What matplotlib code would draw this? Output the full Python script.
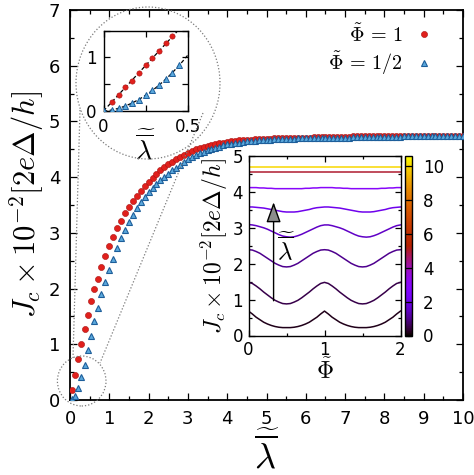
import numpy as np
import matplotlib
matplotlib.use('Agg')
import matplotlib.pyplot as plt
from matplotlib.patches import Ellipse, FancyArrowPatch
from matplotlib.lines import Line2D
from matplotlib.ticker import MultipleLocator
import matplotlib.cm as cm
import matplotlib.colors as mcolors

plt.rcParams['mathtext.fontset'] = 'cm'
plt.rcParams['font.family'] = 'DejaVu Sans'

# ---- main panel data: Jc vs lambda ----
lam = np.concatenate([[0.04, 0.12, 0.21, 0.29, 0.37, 0.46, 0.54, 0.62],
                      np.round(np.arange(0.7, 10.05, 0.1), 1)])
jc_phi1 = [0.18, 0.45, 0.74, 1.01, 1.27, 1.53, 1.78, 1.99,
           2.17, 2.39, 2.59,
           2.77, 2.93, 3.08, 3.21, 3.35, 3.46, 3.57, 3.67, 3.76, 3.84,
           3.92, 3.99, 4.06, 4.12, 4.18, 4.23, 4.28, 4.32, 4.36, 4.40,
           4.44, 4.47, 4.50, 4.52, 4.54, 4.56, 4.58, 4.60, 4.61, 4.62,
           4.63, 4.64, 4.65, 4.66, 4.66, 4.67, 4.67, 4.68, 4.68, 4.69,
           4.69, 4.69, 4.70, 4.70, 4.70, 4.70, 4.71, 4.71, 4.71, 4.71,
           4.71, 4.71, 4.72, 4.72, 4.72, 4.72, 4.72, 4.72, 4.72, 4.72,
           4.72, 4.72, 4.73, 4.73, 4.73, 4.73, 4.73, 4.73, 4.73, 4.73,
           4.73, 4.73, 4.73, 4.73, 4.73, 4.73, 4.73, 4.73, 4.74, 4.74,
           4.74, 4.74, 4.74, 4.74, 4.74, 4.74, 4.74, 4.74, 4.74, 4.74,
           4.74]
jc_phi_half = [0.01, 0.07, 0.22, 0.41, 0.63, 0.89, 1.15, 1.42,
               1.66, 1.90, 2.12,
               2.33, 2.53, 2.72, 2.90, 3.05, 3.19, 3.32, 3.44, 3.55, 3.65,
               3.73, 3.81, 3.88, 3.94, 4.00, 4.06, 4.12, 4.17, 4.22, 4.27,
               4.32, 4.36, 4.40, 4.43, 4.46, 4.49, 4.51, 4.53, 4.55, 4.57,
               4.59, 4.60, 4.61, 4.62, 4.63, 4.64, 4.65, 4.65, 4.66, 4.66,
               4.67, 4.67, 4.68, 4.68, 4.68, 4.69, 4.69, 4.69, 4.70, 4.70,
               4.70, 4.70, 4.70, 4.71, 4.71, 4.71, 4.71, 4.71, 4.71, 4.71,
               4.71, 4.71, 4.72, 4.72, 4.72, 4.72, 4.72, 4.72, 4.72, 4.72,
               4.72, 4.72, 4.72, 4.72, 4.72, 4.73, 4.73, 4.73, 4.73, 4.73,
               4.73, 4.73, 4.73, 4.73, 4.73, 4.73, 4.73, 4.73, 4.73, 4.73,
               4.73]

# ---- zoom inset (small lambda) ----
lam_in_red = [0.05, 0.09, 0.13, 0.17, 0.21, 0.25, 0.29, 0.33, 0.37, 0.41]
jc_in_red = [0.16, 0.30, 0.44, 0.56, 0.71, 0.85, 0.98, 1.11, 1.26, 1.39]
lam_in_blue = [0.0, 0.05, 0.09, 0.13, 0.17, 0.21, 0.25, 0.29, 0.33, 0.37, 0.41, 0.45]
jc_in_blue = [0.0, 0.02, 0.05, 0.09, 0.14, 0.21, 0.30, 0.39, 0.49, 0.59, 0.71, 0.85]

# ---- Jc vs flux inset, one curve per lambda (values for Phi = 0..1, period 1) ----
phi = np.round(np.arange(0, 2.001, 0.05), 2)
curve_lams = [0.2, 0.5, 1.0, 1.5, 2.0, 3.0, 5.0, 10.0]
curves_half = [
    [0.68, 0.60, 0.51, 0.44, 0.37, 0.32, 0.28, 0.25, 0.23, 0.22, 0.22,
     0.22, 0.23, 0.25, 0.28, 0.32, 0.37, 0.44, 0.51, 0.60, 0.68],
    [1.48, 1.45, 1.38, 1.30, 1.21, 1.13, 1.05, 0.98, 0.93, 0.89, 0.88,
     0.89, 0.93, 0.98, 1.05, 1.13, 1.21, 1.30, 1.38, 1.45, 1.48],
    [2.39, 2.38, 2.34, 2.29, 2.22, 2.15, 2.08, 2.01, 1.96, 1.92, 1.91,
     1.92, 1.96, 2.01, 2.08, 2.15, 2.22, 2.29, 2.34, 2.38, 2.39],
    [3.09, 3.08, 3.06, 3.03, 3.00, 2.96, 2.91, 2.86, 2.81, 2.77, 2.75,
     2.74, 2.75, 2.78, 2.82, 2.87, 2.92, 2.97, 3.02, 3.06, 3.08],
    [3.58, 3.58, 3.57, 3.56, 3.55, 3.53, 3.51, 3.49, 3.47, 3.45, 3.44,
     3.44, 3.44, 3.45, 3.47, 3.49, 3.51, 3.54, 3.56, 3.57, 3.58],
    [4.12, 4.12, 4.12, 4.11, 4.11, 4.10, 4.10, 4.09, 4.09, 4.09, 4.09,
     4.09, 4.09, 4.09, 4.09, 4.10, 4.10, 4.11, 4.11, 4.12, 4.12],
    [4.56, 4.56, 4.56, 4.56, 4.56, 4.56, 4.56, 4.56, 4.56, 4.56, 4.56,
     4.56, 4.56, 4.56, 4.56, 4.56, 4.56, 4.56, 4.56, 4.56, 4.56],
    [4.70, 4.70, 4.70, 4.70, 4.70, 4.70, 4.70, 4.70, 4.70, 4.70, 4.70,
     4.70, 4.70, 4.70, 4.70, 4.70, 4.70, 4.70, 4.70, 4.70, 4.70],
]

red = '#e0201c'
red_edge = '#a81010'
blue_face = '#5aa8dc'
blue_edge = '#1d5e9a'
lam_label = r'$\widetilde{\overline{\lambda}}$'
jc_label = r'$J_c\times10^{-2}[2e\Delta/h]$'

W, H = 474, 475
fig = plt.figure(figsize=(W / 100, H / 100), dpi=100)


def rect(l, t, r, b):
    return [l / W, 1 - b / H, (r - l) / W, (b - t) / H]


def gp_style(a, lw=1.2, major=5, minor=2.5):
    for s in a.spines.values():
        s.set_linewidth(lw)
    a.tick_params(which='both', direction='in', top=True, right=True, width=0.9)
    a.tick_params(which='major', length=major)
    a.tick_params(which='minor', length=minor)


# main panel
ax = fig.add_axes(rect(70, 10, 463, 400))
ax.plot(lam, jc_phi1, 'o', ms=4.4, mfc=red, mec=red_edge, mew=0.4, ls='none',
        label=r'$\tilde{\Phi}\,=\,1$', zorder=3)
ax.plot(lam, jc_phi_half, '^', ms=4.6, mfc=blue_face, mec=blue_edge, mew=0.8, ls='none',
        label=r'$\tilde{\Phi}\,=\,1/2$', zorder=4)
ax.set_xlim(0, 10)
ax.set_ylim(0, 7)
ax.xaxis.set_major_locator(MultipleLocator(1))
ax.xaxis.set_minor_locator(MultipleLocator(0.5))
ax.yaxis.set_major_locator(MultipleLocator(1))
ax.yaxis.set_minor_locator(MultipleLocator(0.5))
gp_style(ax, lw=1.3, major=5, minor=3)
ax.tick_params(labelsize=13, pad=7)
ax.set_xlabel(lam_label, fontsize=26, labelpad=2)
ax.set_ylabel(jc_label, fontsize=22)
ax.yaxis.set_label_coords(-(70 - 46) / 393, 0.5)
ax.legend(loc='upper left', bbox_to_anchor=((328 - 70) / 393, (400 - 23) / 390),
          markerfirst=False, frameon=False, handlelength=0.8, handletextpad=0.7,
          fontsize=14.5, labelspacing=0.2, borderpad=0, borderaxespad=0)

# zoom inset
ax1 = fig.add_axes(rect(103.5, 30.5, 187.5, 111))
xr = np.array(lam_in_red)
yr = np.array(jc_in_red)
slope = np.sum(xr * yr) / np.sum(xr * xr)
xf = np.linspace(0, 0.5, 60)
ax1.plot(xf, slope * xf, color='k', lw=0.9, ls=(0, (3, 2)), zorder=2)
pb = np.polyfit(lam_in_blue, jc_in_blue, 2)
ax1.plot(xf, np.polyval(pb, xf), color='k', lw=0.9, ls=(0, (3, 2)), zorder=2)
ax1.plot(lam_in_red, jc_in_red, 'o', ms=3.8, mfc=red, mec=red_edge, mew=0.4, zorder=3)
ax1.plot(lam_in_blue, jc_in_blue, '^', ms=3.8, mfc=blue_face, mec=blue_edge, mew=0.7, zorder=4)
ax1.set_xlim(0, 0.5)
ax1.set_ylim(0, 1.5)
ax1.set_xticks([0, 0.25, 0.5])
ax1.set_xticklabels(['0', '', '0.5'])
ax1.set_yticks([0, 0.5, 1, 1.5])
ax1.set_yticklabels(['0', '', '1', ''])
gp_style(ax1, lw=1.0, major=4, minor=2)
ax1.tick_params(labelsize=12, pad=5)
ax1.set_xlabel(lam_label, fontsize=20, labelpad=-4)

# flux inset
cmap = plt.get_cmap('gnuplot')
norm = mcolors.Normalize(vmin=0, vmax=10.6)
ax2 = fig.add_axes(rect(248.5, 156, 400.5, 335.5))
for lv, half in zip(curve_lams, curves_half):
    full = list(half) + list(half[1:])
    ax2.plot(phi, full, color=cmap(norm(lv)), lw=1.1)
ax2.set_xlim(0, 2)
ax2.set_ylim(0, 5)
ax2.xaxis.set_major_locator(MultipleLocator(1))
ax2.xaxis.set_minor_locator(MultipleLocator(0.5))
ax2.yaxis.set_major_locator(MultipleLocator(1))
ax2.yaxis.set_minor_locator(MultipleLocator(0.5))
gp_style(ax2, lw=1.0, major=4, minor=2)
ax2.tick_params(labelsize=12, pad=4)
ax2.set_xlabel(r'$\tilde{\Phi}$', fontsize=17, labelpad=0)
ax2.set_ylabel(jc_label, fontsize=17, labelpad=2)
arr = FancyArrowPatch((0.33, 0.89), (0.33, 3.79), arrowstyle='-|>,head_width=0.45,head_length=1.25',
                      mutation_scale=10, fc='#8c8c8c', ec='k', lw=1.0, zorder=5)
ax2.add_patch(arr)
ax2.text(0.38, 2.45, lam_label, fontsize=18, ha='left', va='center')

cax = fig.add_axes(rect(404.5, 156, 412, 335.5))
sm = cm.ScalarMappable(norm=norm, cmap=cmap)
cb = fig.colorbar(sm, cax=cax, ticks=[0, 2, 4, 6, 8, 10])
cb.outline.set_linewidth(1.0)
cax.tick_params(direction='in', length=3, width=0.9, labelsize=12, pad=8, left=True)

# dotted zoom guides
guide = dict(transform=fig.transFigure, color='#7a7a7a', lw=0.9, ls=(0, (1, 1.6)))
fig.add_artist(Ellipse((148 / W, 1 - 83 / H), 144 / W, 152 / H, fill=False,
                       transform=fig.transFigure, ec='#7a7a7a', lw=0.9, ls=(0, (1, 1.6))))
fig.add_artist(Ellipse((81.7 / W, 1 - 381 / H), 48.6 / W, 50 / H, fill=False,
                       transform=fig.transFigure, ec='#7a7a7a', lw=0.9, ls=(0, (1, 1.6))))
fig.add_artist(Line2D([80 / W, 73 / W], [1 - 110 / H, 1 - 358 / H], **guide))
fig.add_artist(Line2D([203 / W, 100 / W], [1 - 113 / H, 1 - 363 / H], **guide))

fig.savefig('out.png', dpi=100)
